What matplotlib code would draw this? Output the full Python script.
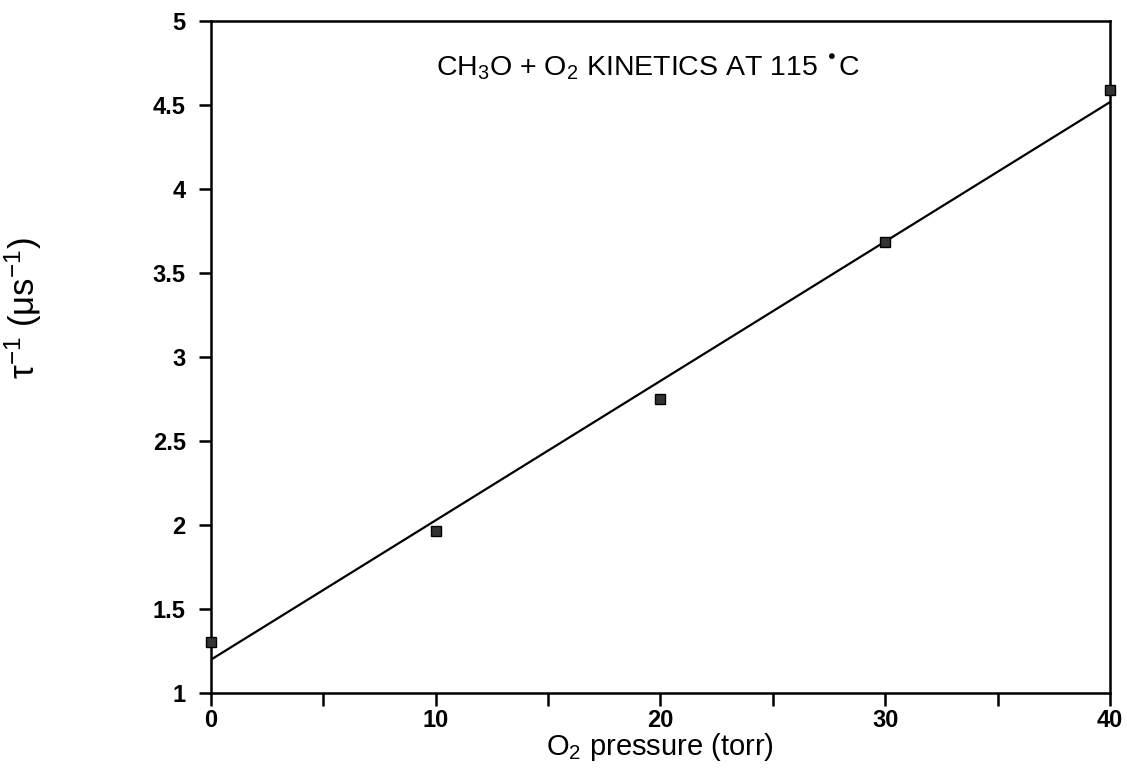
import matplotlib.pyplot as plt
import numpy as np

plt.rcParams['font.family'] = ['Liberation Sans', 'DejaVu Sans']
plt.rcParams['mathtext.default'] = 'regular'

# O2 pressure (torr) and decay rate (1/us)
pressure = [0, 10, 20, 30, 40]
rate = [1.30, 1.96, 2.75, 3.68, 4.59]

x_ticks = [0, 5, 10, 15, 20, 25, 30, 35, 40]
x_labels = ['0', '', '10', '', '20', '', '30', '', '40']
y_ticks = [1, 1.5, 2, 2.5, 3, 3.5, 4, 4.5, 5]
y_labels = ['1', '1.5', '2', '2.5', '3', '3.5', '4', '4.5', '5']

fig = plt.figure(figsize=(11.27, 7.68), dpi=100)
ax = fig.add_axes([0.187, 0.098, 0.798, 0.875])

# linear fit through the points
coef = np.polyfit(pressure, rate, 1)
xs = np.array([0, 40])
ax.plot(xs, np.polyval(coef, xs), color='black', lw=1.6)
ax.plot(pressure, rate, 's', color='#333333', markersize=7,
        markeredgecolor='black', clip_on=False, zorder=5)

ax.set_xlim(0, 40)
ax.set_ylim(1, 5)
ax.set_xticks(x_ticks)
ax.set_xticklabels(x_labels, fontweight='bold', fontsize=17)
ax.set_yticks(y_ticks)
ax.set_yticklabels(y_labels, fontweight='bold', fontsize=17)
ax.tick_params(direction='out', length=9, width=1.8)
ax.tick_params(axis='x', pad=3)
ax.tick_params(axis='y', pad=9)
for s in ax.spines.values():
    s.set_linewidth(1.8)

ax.text(0.486, 0.93, 'CH$_3$O + O$_2$ KINETICS AT 115 $^{•}$C',
        transform=ax.transAxes, ha='center', va='center', fontsize=20.5)

ax.set_xlabel('O$_2$ pressure (torr)', fontsize=21, labelpad=-1)
ax.set_ylabel('τ$^{-1}$ (μs$^{-1}$)', fontsize=25)
ax.yaxis.set_label_coords(-0.185, 0.572)

fig.savefig('out.png', dpi=100)
